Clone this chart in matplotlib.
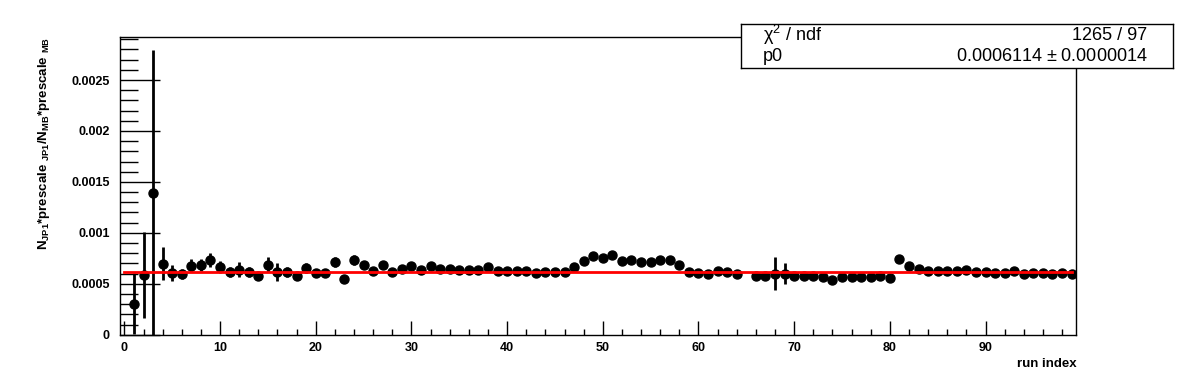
import matplotlib
matplotlib.use("Agg")
import matplotlib.pyplot as plt
import numpy as np

plt.rcParams['font.family'] = ['Liberation Sans', 'DejaVu Sans']
plt.rcParams['mathtext.default'] = 'regular'

# run index -> ratio (bin 65 is empty)
runs = [1, 2, 3, 4, 5, 6, 7, 8, 9, 10,
        11, 12, 13, 14, 15, 16, 17, 18, 19, 20,
        21, 22, 23, 24, 25, 26, 27, 28, 29, 30,
        31, 32, 33, 34, 35, 36, 37, 38, 39, 40,
        41, 42, 43, 44, 45, 46, 47, 48, 49, 50,
        51, 52, 53, 54, 55, 56, 57, 58, 59, 60,
        61, 62, 63, 64, 66, 67, 68, 69, 70,
        71, 72, 73, 74, 75, 76, 77, 78, 79, 80,
        81, 82, 83, 84, 85, 86, 87, 88, 89, 90,
        91, 92, 93, 94, 95, 96, 97, 98, 99]
ratio = [0.000305, 0.000584, 0.001394, 0.000699, 0.000607, 0.000597, 0.000679, 0.000686, 0.000731, 0.000666,
         0.000617, 0.000640, 0.000617, 0.000574, 0.000689, 0.000617, 0.000617, 0.000574, 0.000653, 0.000607,
         0.000607, 0.000718, 0.000551, 0.000731, 0.000686, 0.000625, 0.000689, 0.000613, 0.000646, 0.000679,
         0.000633, 0.000679, 0.000646, 0.000646, 0.000633, 0.000633, 0.000633, 0.000666, 0.000623, 0.000623,
         0.000623, 0.000623, 0.000603, 0.000613, 0.000613, 0.000613, 0.000663, 0.000725, 0.000771, 0.000755,
         0.000781, 0.000725, 0.000738, 0.000715, 0.000715, 0.000731, 0.000738, 0.000682, 0.000613, 0.000607,
         0.000597, 0.000627, 0.000613, 0.000597, 0.000581, 0.000574, 0.000600, 0.000600, 0.000574,
         0.000574, 0.000574, 0.000568, 0.000541, 0.000568, 0.000568, 0.000568, 0.000568, 0.000574, 0.000554,
         0.000748, 0.000679, 0.000646, 0.000630, 0.000630, 0.000630, 0.000630, 0.000640, 0.000620, 0.000620,
         0.000607, 0.000607, 0.000623, 0.000594, 0.000607, 0.000607, 0.000594, 0.000607, 0.000600]
err = [0.000300, 0.000420, 0.001400, 0.000160, 0.000080, 0.000050, 0.000060, 0.000060, 0.000070, 0.000060,
       0.000050, 0.000070, 0.000050, 0.000040, 0.000070, 0.000090, 0.000050, 0.000040, 0.000050, 0.000040,
       0.000040, 0.000050, 0.000030, 0.000050, 0.000040, 0.000030, 0.000040, 0.000030, 0.000040, 0.000030,
       0.000030, 0.000030, 0.000030, 0.000030, 0.000030, 0.000030, 0.000030, 0.000030, 0.000030, 0.000030,
       0.000030, 0.000030, 0.000030, 0.000030, 0.000030, 0.000030, 0.000040, 0.000030, 0.000030, 0.000030,
       0.000030, 0.000030, 0.000030, 0.000030, 0.000030, 0.000030, 0.000030, 0.000030, 0.000030, 0.000030,
       0.000030, 0.000030, 0.000030, 0.000030, 0.000030, 0.000030, 0.000160, 0.000100, 0.000030,
       0.000030, 0.000030, 0.000030, 0.000030, 0.000030, 0.000030, 0.000030, 0.000030, 0.000030, 0.000030,
       0.000030, 0.000030, 0.000030, 0.000030, 0.000030, 0.000030, 0.000030, 0.000030, 0.000030, 0.000030,
       0.000030, 0.000030, 0.000030, 0.000030, 0.000030, 0.000030, 0.000030, 0.000030, 0.000030]

p0 = 0.0006114
fit_range = [0, 99]

fig = plt.figure(figsize=(11.96, 3.72), dpi=100)
ax = fig.add_axes([0.1, 0.1, 0.8, 0.8])

ax.errorbar(runs, ratio, yerr=err, fmt='o', color='black', ms=6.5,
            elinewidth=2, capsize=0, zorder=2)
ax.plot(fit_range, [p0, p0], color='red', lw=2, zorder=3)

ax.set_xlim(-0.5, 99.5)
ax.set_ylim(0, 0.00292)
ax.set_xticks(np.arange(0, 100, 10))
ax.set_xticks(np.arange(0, 100, 2), minor=True)
ax.set_yticks([0, 0.0005, 0.001, 0.0015, 0.002, 0.0025])
ax.set_yticklabels(['0', '0.0005', '0.001', '0.0015', '0.002', '0.0025'])
ax.set_yticks(np.arange(0, 0.00292, 0.0001), minor=True)

ax.tick_params(axis='both', which='both', direction='in', right=False, top=False,
               width=1, labelsize=9)
ax.tick_params(axis='x', which='major', length=10, pad=5)
ax.tick_params(axis='x', which='minor', length=4.5)
ax.tick_params(axis='y', which='major', length=29, pad=7)
ax.tick_params(axis='y', which='minor', length=13)
for lab in ax.get_xticklabels() + ax.get_yticklabels():
    lab.set_fontweight('bold')
for sp in ax.spines.values():
    sp.set_linewidth(1)

ax.set_xlabel('run index', fontsize=9.5, fontweight='bold', ha='right', va='top')
ax.xaxis.set_label_coords(1.0, -0.078)
ax.set_ylabel(r'N$_{JP1}$*prescale $_{JP1}$/N$_{MB}$*prescale $_{MB}$',
              fontsize=9.5, fontweight='bold', loc='top')
ax.yaxis.set_label_coords(-0.071, 1.0)

# stats box
box = fig.add_axes([741 / 1196, 1 - 68 / 372, 432 / 1196, 44 / 372])
box.set_xticks([])
box.set_yticks([])
for sp in box.spines.values():
    sp.set_linewidth(1)
box.text(0.05, 0.74, r'$\chi^{2}$ / ndf', fontsize=13, va='center', ha='left',
         transform=box.transAxes)
box.text(0.94, 0.74, '1265 / 97', fontsize=13, va='center', ha='right',
         transform=box.transAxes)
box.text(0.05, 0.26, 'p0', fontsize=13, va='center', ha='left',
         transform=box.transAxes)
box.text(0.94, 0.26, '0.0006114 $\\pm$ 0.0000014', fontsize=13, va='center', ha='right',
         transform=box.transAxes)

fig.savefig('out.png', dpi=100)
